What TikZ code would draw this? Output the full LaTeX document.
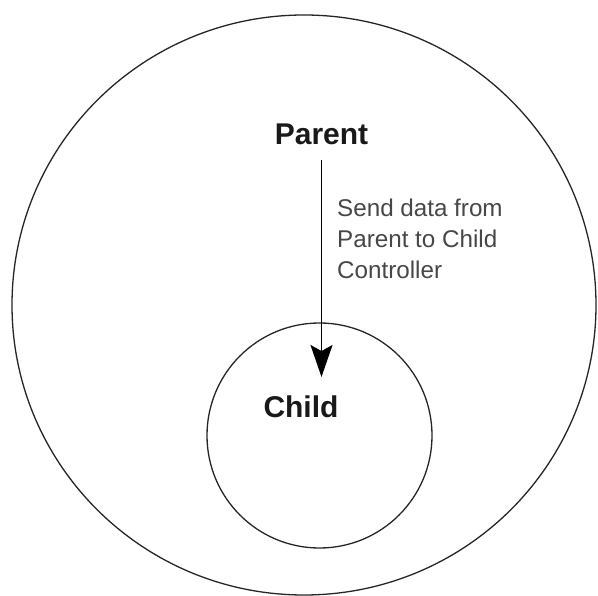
\documentclass[tikz,border=0pt]{standalone}
\usepackage{fontspec}
\setmainfont{Liberation Sans}
\usetikzlibrary{arrows.meta,shapes.geometric}
\begin{document}
\begin{tikzpicture}[x=1pt,y=-1pt,
  ring/.style={draw=black!85,line width=1.3pt},
  bigtext/.style={font=\bfseries\fontsize{30}{36}\selectfont,text=black!90,inner sep=0pt},
  note/.style={font=\fontsize{24.2}{31}\selectfont,text=black!72,align=left,inner sep=0pt},
  arr/.style={line width=1.5pt,draw=black,-{Stealth[length=32pt,width=22pt,inset=6pt]}}]
\useasboundingbox[fill=white] (0,0) rectangle (598,596);
\node[ring,ellipse,minimum width=584pt,minimum height=580pt,inner sep=0pt] (outer) at (304,305) {};
\node[ring,circle,minimum size=225pt,inner sep=0pt] (inner) at (319.5,435.5) {};
\node[bigtext,anchor=base] (parent) at (321.5,145) {Parent};
\node[bigtext,anchor=base] (child) at (301,418) {Child};
\node[note,anchor=north west] (label) at (337,198.5) {Send data from\\Parent to Child\\Controller};
\coordinate (tip) at (321.5,377);
\draw[arr,shorten <=15pt] (parent.base) -- (tip);
\end{tikzpicture}
\end{document}
